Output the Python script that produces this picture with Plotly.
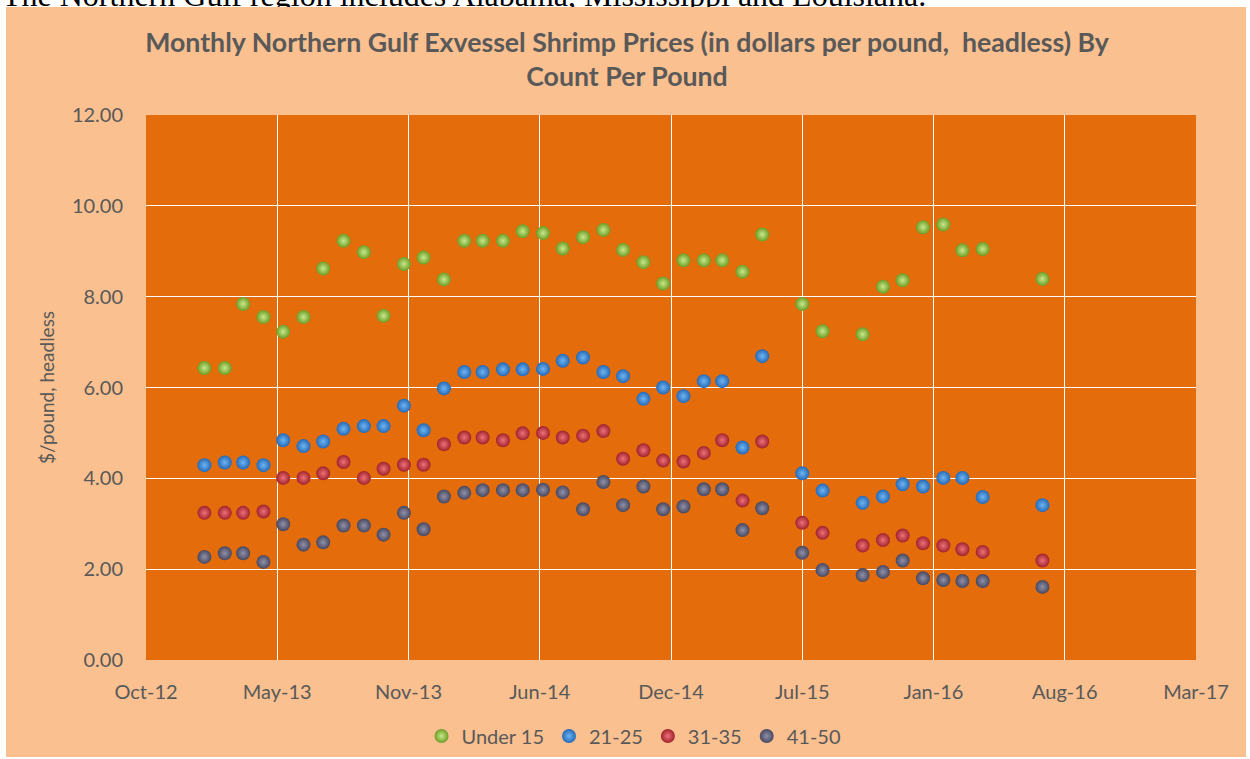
import plotly.graph_objects as go

# ---------------- data ----------------
dates = [
    "2013-01-15", "2013-02-15", "2013-03-15", "2013-04-15", "2013-05-15", "2013-06-15",
    "2013-07-15", "2013-08-15", "2013-09-15", "2013-10-15", "2013-11-15", "2013-12-15",
    "2014-01-15", "2014-02-15", "2014-03-15", "2014-04-15", "2014-05-15", "2014-06-15",
    "2014-07-15", "2014-08-15", "2014-09-15", "2014-10-15", "2014-11-15", "2014-12-15",
    "2015-01-15", "2015-02-15", "2015-03-15", "2015-04-15", "2015-05-15",
    "2015-07-15", "2015-08-15",
    "2015-10-15", "2015-11-15", "2015-12-15", "2016-01-15", "2016-02-15", "2016-03-15", "2016-04-15",
    "2016-07-15",
]

under_15 = [6.43, 6.43, 7.84, 7.55, 7.23, 7.55, 8.62, 9.23, 8.98, 7.58, 8.72, 8.86,
            8.38, 9.23, 9.23, 9.23, 9.44, 9.40, 9.06, 9.31, 9.47, 9.03, 8.76, 8.29,
            8.80, 8.80, 8.80, 8.55, 9.37, 7.84, 7.24, 7.17, 8.22, 8.36, 9.53, 9.59,
            9.02, 9.05, 8.39]
c21_25 = [4.29, 4.35, 4.35, 4.29, 4.84, 4.71, 4.81, 5.09, 5.15, 5.15, 5.60, 5.06,
          5.98, 6.34, 6.34, 6.40, 6.40, 6.41, 6.59, 6.66, 6.34, 6.25, 5.75, 6.00,
          5.81, 6.14, 6.14, 4.68, 6.69, 4.11, 3.73, 3.46, 3.60, 3.87, 3.82, 4.01,
          4.01, 3.59, 3.41]
c31_35 = [3.24, 3.24, 3.24, 3.27, 4.01, 4.01, 4.11, 4.36, 4.01, 4.21, 4.30, 4.30,
          4.75, 4.90, 4.90, 4.84, 4.99, 5.00, 4.90, 4.94, 5.04, 4.43, 4.62, 4.39,
          4.37, 4.56, 4.84, 3.51, 4.81, 3.02, 2.80, 2.52, 2.64, 2.74, 2.57, 2.52,
          2.44, 2.38, 2.19]
c41_50 = [2.27, 2.35, 2.35, 2.16, 2.99, 2.54, 2.59, 2.96, 2.96, 2.76, 3.24, 2.88,
          3.60, 3.68, 3.74, 3.74, 3.74, 3.75, 3.69, 3.32, 3.92, 3.41, 3.82, 3.32,
          3.38, 3.76, 3.76, 2.86, 3.34, 2.36, 1.98, 1.87, 1.94, 2.19, 1.80, 1.76,
          1.74, 1.74, 1.61]

series_names = ["Under 15", "21-25", "31-35", "41-50"]
series_values = [under_15, c21_25, c31_35, c41_50]

x_min = "2012-10-18"
x_max = "2017-03-06"
tick_step_days = 200

# ---------------- style ----------------
W, H = 1250, 759
M_L, M_R, M_T, M_B = 146, 54, 115, 99
PEACH = "#FAC090"
ORANGE = "#E46C0A"
TEXT = "#595959"
FONT = "Lato, 'Open Sans', sans-serif"

center_col = ["#C8E88A", "#6FB4F0", "#EE7078", "#9090A8"]
edge_col = ["#6E9C25", "#2369B8", "#A0222C", "#474760"]

fig = go.Figure()
for name, vals, cc, ec in zip(series_names, series_values, center_col, edge_col):
    fig.add_trace(go.Scatter(
        x=dates, y=vals, name=name, mode="markers",
        marker=dict(size=14, color=ec, gradient=dict(type="radial", color=cc),
                    line=dict(width=0)),
    ))

pw = W - M_L - M_R
ph = H - M_T - M_B


def px_x(px):
    return (px - M_L) / pw


def px_y(py):
    return (H - M_B - py) / ph


white_strips = [
    (0, 0, W, 7),        # top
    (0, 0, 6, H),        # left
    (1246, 0, W, H),     # right
    (0, 757, W, H),      # bottom
]
shapes = [dict(type="rect", xref="paper", yref="paper", layer="above",
               x0=px_x(a), x1=px_x(c), y0=px_y(d), y1=px_y(b),
               fillcolor="white", line=dict(width=0))
          for a, b, c, d in white_strips]

annotations = [
    dict(
        text="The Northern Gulf region includes Alabama, Mississippi and Louisiana.",
        xref="paper", yref="paper", x=px_x(0), xanchor="left",
        y=px_y(15.5), yanchor="bottom", showarrow=False,
        font=dict(family="'Liberation Serif', 'Times New Roman', serif", size=32, color="black"),
    ),
    # peach cover so the page text is hidden below the chart's top edge
    dict(
        text=" ", xref="paper", yref="paper",
        x=px_x(6), xanchor="left", y=px_y(7), yanchor="top",
        width=1240, height=14, bgcolor=PEACH, borderpad=0, borderwidth=0,
        showarrow=False, font=dict(size=8),
    ),
]

fig.update_layout(
    width=W, height=H,
    margin=dict(l=M_L, r=M_R, t=M_T, b=M_B, autoexpand=False),
    paper_bgcolor=PEACH,
    plot_bgcolor=ORANGE,
    font=dict(family=FONT, color=TEXT, size=20),
    title=dict(
        text="<b>Monthly Northern Gulf Exvessel Shrimp Prices (in dollars per pound,  headless) By<br>Count Per Pound</b>",
        x=0.5016, xanchor="center", xref="container",
        y=1 - 51.5 / H, yanchor="middle", yref="container",
        font=dict(family=FONT, size=26.7, color=TEXT),
    ),
    xaxis=dict(
        type="date", range=[x_min, x_max],
        tick0=x_min, dtick=tick_step_days * 86400000, tickformat="%b-%y",
        showgrid=True, gridcolor="white", gridwidth=1,
        zeroline=False, showline=False, ticks="",
        ticklabelstandoff=18,
        tickfont=dict(size=20, color=TEXT),
    ),
    yaxis=dict(
        range=[0, 12], dtick=2, tickformat=".2f",
        showgrid=True, gridcolor="white", gridwidth=1,
        zeroline=False, showline=False, ticks="",
        ticklabelstandoff=22,
        tickfont=dict(size=20, color=TEXT),
        title=dict(text="$/pound, headless", standoff=12,
                   font=dict(size=19, color=TEXT)),
    ),
    legend=dict(
        orientation="h", xref="container", yref="container",
        x=634 / W, xanchor="center", y=1 - 736 / H, yanchor="middle",
        font=dict(size=20, color=TEXT), bgcolor="rgba(0,0,0,0)",
        itemwidth=30, tracegroupgap=0,
    ),
    shapes=shapes,
    annotations=annotations,
    showlegend=True,
)

fig.write_html("out.html", config={"displayModeBar": False},
               post_script="document.body.style.margin='0';")
